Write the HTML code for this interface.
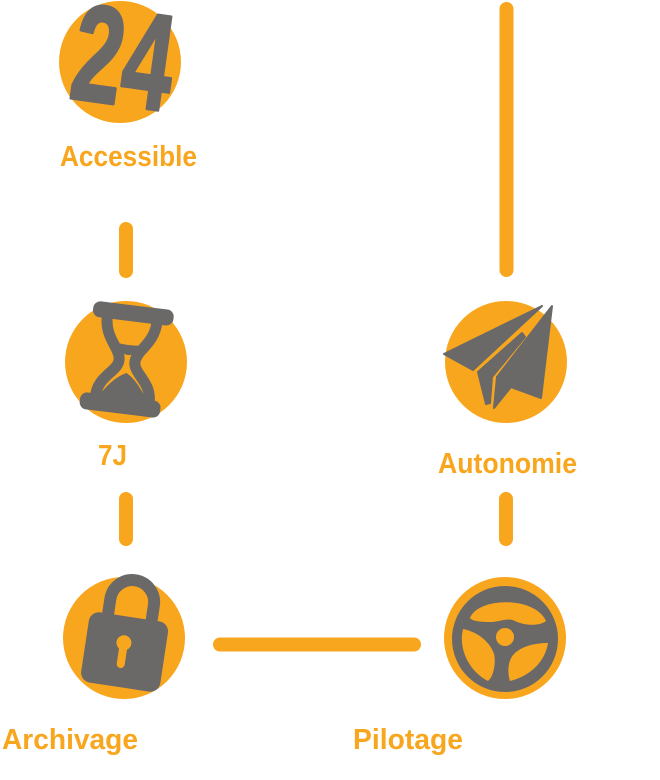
<!DOCTYPE html>
<html>
<head>
<meta charset="utf-8">
<style>
  html, body { margin:0; padding:0; background:#ffffff; }
  svg { display:block; }
  .lbl { font-family: "Liberation Sans", sans-serif; font-weight:700; font-size:29px; fill:#F9A61F; }
</style>
</head>
<body>
<svg width="660" height="780" viewBox="0 0 660 780" xmlns="http://www.w3.org/2000/svg">
  <!-- connectors -->
  <g stroke="#F9A61F" stroke-width="14" stroke-linecap="round" fill="none">
    <line x1="506.5" y1="9" x2="506.5" y2="270"/>
    <line x1="126" y1="229" x2="126" y2="271"/>
    <line x1="126" y1="499" x2="126" y2="539"/>
    <line x1="506" y1="499" x2="506" y2="539"/>
    <line x1="220" y1="644.5" x2="414" y2="644.5"/>
  </g>

  <!-- circles -->
  <g fill="#F9A61F">
    <circle cx="120" cy="62" r="61"/>
    <circle cx="126" cy="362" r="61"/>
    <circle cx="506" cy="362" r="61"/>
    <circle cx="124" cy="638" r="61"/>
    <circle cx="505" cy="638" r="61"/>
  </g>

  <!-- 24 icon -->
  <text x="0" y="49" transform="translate(124,56) rotate(8) scale(0.66,1)" text-anchor="middle"
        font-family="Liberation Sans, sans-serif" font-weight="700" font-size="137" fill="#6B6967"
        stroke="#6B6967" stroke-width="3" stroke-linejoin="round">24</text>

  <!-- hourglass -->
  <g transform="translate(127,361) rotate(7)" fill="#6B6967">
    <rect x="-40" y="-56" width="81" height="16" rx="7"/>
    <rect x="-42" y="36" width="81" height="17" rx="7"/>
    <g fill="none" stroke="#6B6967" stroke-width="11" stroke-linecap="round">
      <path d="M -25 -42 C -25 -20, -8 -12, -8 0 C -8 12, -27 18, -27 38"/>
      <path d="M 25 -42 C 25 -20, 8 -12, 8 0 C 8 12, 27 18, 27 38"/>
    </g>
    <path d="M -13 -17 Q 0 -15 13 -17 Q 7 -6 0 -6 Q -7 -6 -13 -17 Z"/>
    <path d="M -24 38 Q -12 18 1 12 Q 13 18 25 38 Z"/>
  </g>

  <!-- paper plane -->
  <g fill="#6B6967" stroke="#6B6967" stroke-width="2" stroke-linejoin="round">
    <polygon points="542,306 444,354 473,370"/>
    <polygon points="522,333 478,372 486,404 490,403 492,377 525,337"/>
    <polygon points="552,306 541,398 511,387 494,408 497,377"/>
  </g>

  <!-- lock -->
  <g transform="translate(124.5,652.5) rotate(8.6)">
    <path d="M -22 -32 L -22 -51 A 22 22 0 0 1 22 -51 L 22 -32" fill="none" stroke="#6B6967" stroke-width="12"/>
    <rect x="-40" y="-36" width="80" height="71" rx="10" fill="#6B6967"/>
    <circle cx="-2" cy="-9.5" r="7.5" fill="#F9A61F"/>
    <rect x="-6" y="-10" width="8" height="26" rx="4" fill="#F9A61F"/>
  </g>

  <!-- steering wheel -->
  <circle cx="505" cy="639" r="53" fill="#6B6967"/>
  <g fill="#F9A61F">
    <path d="M 470 618 C 478 597, 535 596, 546 621 C 540 626, 525 626, 515 621 C 508 617, 500 622, 490 622 C 480 622, 472 621, 470 618 Z"/>
    <path d="M 463 629 C 458 650, 470 672, 488 681 C 494 676, 496 662, 494 654 C 490 642, 478 632, 463 629 Z"/>
    <path d="M 548 643 C 545 662, 530 676, 510 681 C 507 672, 508 660, 514 654 C 522 646, 535 643, 548 643 Z"/>
    <circle cx="505" cy="637" r="9"/>
  </g>

  <!-- labels -->
  <text class="lbl" x="60" y="166" textLength="137" lengthAdjust="spacingAndGlyphs">Accessible</text>
  <text class="lbl" x="98" y="465" textLength="29" lengthAdjust="spacingAndGlyphs">7J</text>
  <text class="lbl" x="438" y="473" textLength="139" lengthAdjust="spacingAndGlyphs">Autonomie</text>
  <text class="lbl" x="2" y="749" textLength="136" lengthAdjust="spacingAndGlyphs">Archivage</text>
  <text class="lbl" x="353" y="749" textLength="110" lengthAdjust="spacingAndGlyphs">Pilotage</text>
</svg>
</body>
</html>
